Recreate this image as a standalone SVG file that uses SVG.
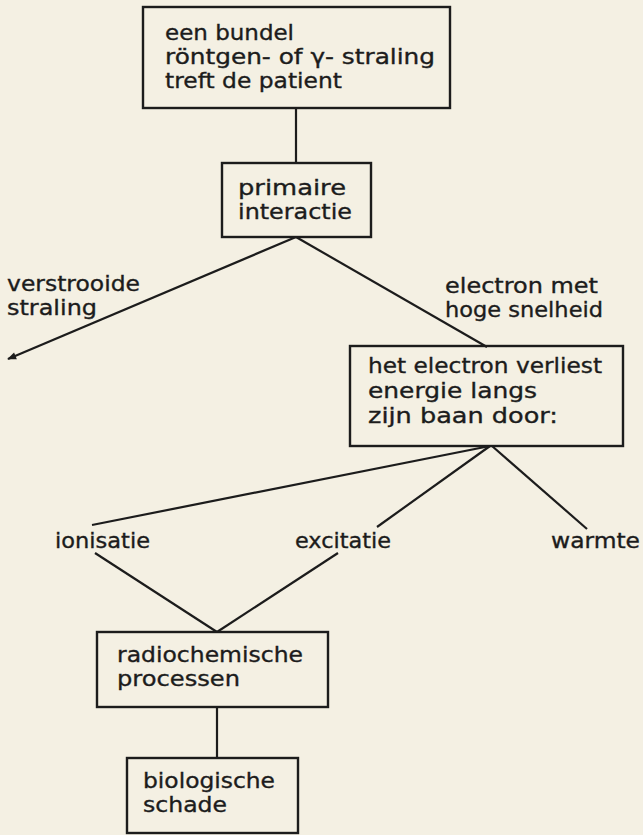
<svg xmlns="http://www.w3.org/2000/svg" width="643" height="835" viewBox="0 0 643 835">
<style>
.box{fill:none;stroke:#1c1c1c;stroke-width:2.4}
.ln{stroke:#1c1c1c;stroke-width:2.2;fill:none}
text{font-family:"DejaVu Sans","Liberation Sans",sans-serif;font-size:21px;fill:#1c1c1c;stroke:#1c1c1c;stroke-width:0.35}
</style>
<defs>
<marker id="arr" viewBox="0 0 10 10" refX="9" refY="5" markerWidth="10" markerHeight="9" orient="auto" markerUnits="userSpaceOnUse">
<path d="M0,1 L10,5 L0,9 z" fill="#1c1c1c"/>
</marker>
</defs>
<rect width="643" height="835" fill="#f4f0e3"/>
<g id="connectors">
<line class="ln" x1="296" y1="108" x2="296" y2="163"/>
<line class="ln" x1="296" y1="237" x2="8" y2="359" marker-end="url(#arr)"/>
<line class="ln" x1="296" y1="237" x2="487" y2="347"/>
<line class="ln" x1="490" y1="446" x2="92" y2="525"/>
<line class="ln" x1="490" y1="446" x2="377" y2="527"/>
<line class="ln" x1="492" y1="446" x2="587" y2="529"/>
<line class="ln" x1="95" y1="553" x2="217" y2="632"/>
<line class="ln" x1="338" y1="553" x2="217" y2="632"/>
<line class="ln" x1="217" y1="707" x2="217" y2="758"/>
</g>
<g id="n-bundel">
<rect class="box" x="143" y="7" width="307" height="101"/>
<text x="165" y="40" textLength="129" lengthAdjust="spacingAndGlyphs">een bundel</text>
<text x="165" y="64" textLength="270" lengthAdjust="spacingAndGlyphs">röntgen- of γ- straling</text>
<text x="165" y="88" textLength="177" lengthAdjust="spacingAndGlyphs">treft de patient</text>
</g>
<g id="n-primaire">
<rect class="box" x="222" y="163" width="149" height="74"/>
<text x="238" y="195" textLength="108" lengthAdjust="spacingAndGlyphs">primaire</text>
<text x="238" y="219" textLength="114" lengthAdjust="spacingAndGlyphs">interactie</text>
</g>
<g id="n-verstrooide">
<text x="7" y="291" textLength="133" lengthAdjust="spacingAndGlyphs">verstrooide</text>
<text x="7" y="315" textLength="90" lengthAdjust="spacingAndGlyphs">straling</text>
</g>
<g id="n-electron">
<text x="445" y="293" textLength="153" lengthAdjust="spacingAndGlyphs">electron met</text>
<text x="445" y="317" textLength="158" lengthAdjust="spacingAndGlyphs">hoge snelheid</text>
</g>
<g id="n-verliest">
<rect class="box" x="350" y="346" width="273" height="100"/>
<text x="368" y="373" textLength="234" lengthAdjust="spacingAndGlyphs">het electron verliest</text>
<text x="368" y="398" textLength="169" lengthAdjust="spacingAndGlyphs">energie langs</text>
<text x="368" y="423" textLength="190" lengthAdjust="spacingAndGlyphs">zijn baan door:</text>
</g>
<g id="n-ionisatie"><text x="55" y="548" textLength="95" lengthAdjust="spacingAndGlyphs">ionisatie</text></g>
<g id="n-excitatie"><text x="295" y="548" textLength="96" lengthAdjust="spacingAndGlyphs">excitatie</text></g>
<g id="n-warmte"><text x="551" y="548" textLength="89" lengthAdjust="spacingAndGlyphs">warmte</text></g>
<g id="n-radiochemische">
<rect class="box" x="97" y="632" width="231" height="75"/>
<text x="117" y="662" textLength="186" lengthAdjust="spacingAndGlyphs">radiochemische</text>
<text x="117" y="686" textLength="123" lengthAdjust="spacingAndGlyphs">processen</text>
</g>
<g id="n-biologische">
<rect class="box" x="127" y="758" width="171" height="75"/>
<text x="143" y="788" textLength="132" lengthAdjust="spacingAndGlyphs">biologische</text>
<text x="143" y="812" textLength="84" lengthAdjust="spacingAndGlyphs">schade</text>
</g>
</svg>
